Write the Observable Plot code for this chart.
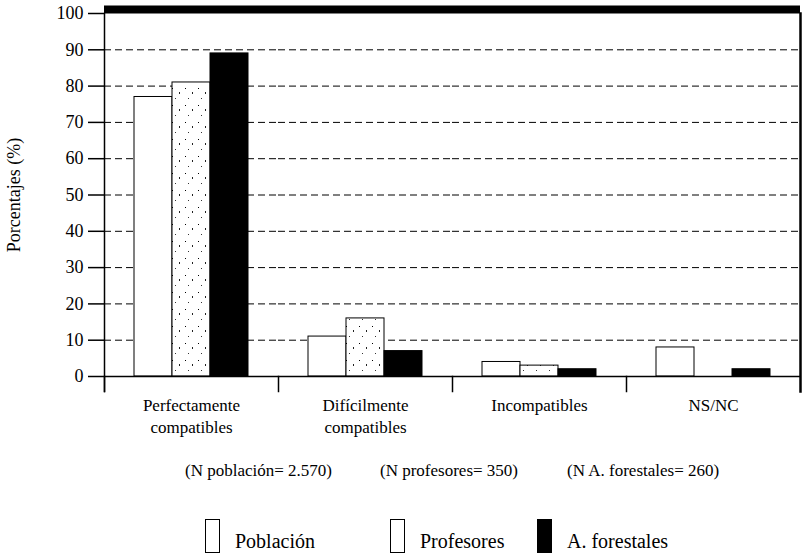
<!DOCTYPE html>
<html>
<head>
<meta charset="utf-8">
<script src="https://cdn.jsdelivr.net/npm/d3@7"></script>
<script src="https://cdn.jsdelivr.net/npm/@observablehq/plot@0.6"></script>
<style>
  body { margin: 0; background: white; font-family: 'Liberation Serif'; }
  #wrap { position: relative; width: 803px; height: 554px; font-family: 'Liberation Serif'; color: black; }
  #chart { position: absolute; left: 0; top: 0; }
  #chart svg, #chart svg text { font-family: 'Liberation Serif' !important; }
  .n { position: absolute; top: 461px; font-size: 17px; line-height: 20px; white-space: nowrap; }
  .lg-box { position: absolute; top: 519px; width: 13px; height: 32px; border: 1px solid black; box-sizing: content-box; }
  .lg-text { position: absolute; top: 530px; font-size: 20px; line-height: 22px; white-space: nowrap; }
</style>
</head>
<body>
<div id="wrap"><div id="chart"></div></div>
<script>
const categories = ["Perfectamente\ncompatibles", "Difícilmente\ncompatibles", "Incompatibles", "NS/NC"];
const series = ["Población", "Profesores", "A. forestales"];
const poblacion = [77, 11, 4, 8];
const profesores = [81, 16, 3, 0];
const forestales = [89, 7, 2, 2];
const yTicks = [0, 10, 20, 30, 40, 50, 60, 70, 80, 90, 100];
const sampleSizes = ["(N población= 2.570)", "(N profesores= 350)", "(N A. forestales= 260)"];

const seriesValues = [poblacion, profesores, forestales];
const data = [];
categories.forEach((c, i) => {
  series.forEach((s, j) => data.push({category: c, series: s, value: seriesValues[j][i]}));
});

const svg = Plot.plot({
  width: 803,
  height: 445,
  marginLeft: 103,
  marginRight: 3,
  marginTop: 13,
  marginBottom: 69,
  style: "font-family: 'Liberation Serif'; font-size: 17px; color: black; background: white;",
  fx: {domain: categories, padding: 0},
  x: {domain: series, paddingInner: 0, paddingOuter: 0.75, axis: null},
  y: {domain: [0, 100]},
  color: {domain: series, range: ["white", "url(#stipple)", "black"]},
  marks: [
    Plot.gridY(yTicks.filter(d => d > 0 && d < 100), {stroke: "black", strokeOpacity: 1, strokeDasharray: "7,4", strokeWidth: 1}),
    Plot.barY(data, {fx: "category", x: "series", y: "value", fill: "series", stroke: "black", strokeWidth: 1}),
    Plot.ruleY([0], {stroke: "black", strokeWidth: 1.5}),
    Plot.ruleY([100], {stroke: "black", strokeWidth: 8, dy: -4}),
    Plot.frame({anchor: "left", insetTop: 363, insetBottom: -15, stroke: "black", strokeWidth: 1.5}),
    Plot.frame({anchor: "left", facetAnchor: "left", insetBottom: -15, stroke: "black", strokeWidth: 1.5}),
    Plot.frame({anchor: "right", facetAnchor: "right", insetBottom: -15, stroke: "black", strokeWidth: 2.5}),
    Plot.axisY(yTicks, {tickSize: 16, tickPadding: 5, fontSize: 18, strokeWidth: 1.5,
      label: "Porcentajes (%)", labelAnchor: "center", labelOffset: 97, labelArrow: "none"}),
    Plot.axisFx({anchor: "bottom", tickSize: 0, tickPadding: 19, fontSize: 17, lineHeight: 1.3, label: null})
  ]
});

const defs = document.createElementNS("http://www.w3.org/2000/svg", "defs");
defs.innerHTML = `<pattern id="stipple" width="13" height="17" patternUnits="userSpaceOnUse">
  <rect width="13" height="17" fill="white"/>
  <rect x="2" y="3" width="1" height="1" fill="black"/>
  <rect x="9" y="7" width="1" height="2" fill="#222"/>
  <rect x="5" y="13" width="1" height="1" fill="#333"/>
</pattern>`;
svg.insertBefore(defs, svg.firstChild);
document.getElementById("chart").appendChild(svg);

const wrap = document.getElementById("wrap");
const nPos = [185, 380, 567];
sampleSizes.forEach((t, i) => {
  const d = document.createElement("div");
  d.className = "n"; d.style.left = nPos[i] + "px"; d.textContent = t;
  wrap.appendChild(d);
});
const boxPos = [205, 390, 537];
const boxFill = ["white", "white", "black"];
series.forEach((s, i) => {
  const b = document.createElement("div");
  b.className = "lg-box"; b.style.left = boxPos[i] + "px"; b.style.background = boxFill[i];
  wrap.appendChild(b);
  const t = document.createElement("div");
  t.className = "lg-text"; t.style.left = (boxPos[i] + 30) + "px"; t.textContent = s;
  wrap.appendChild(t);
});
</script>
</body>
</html>
